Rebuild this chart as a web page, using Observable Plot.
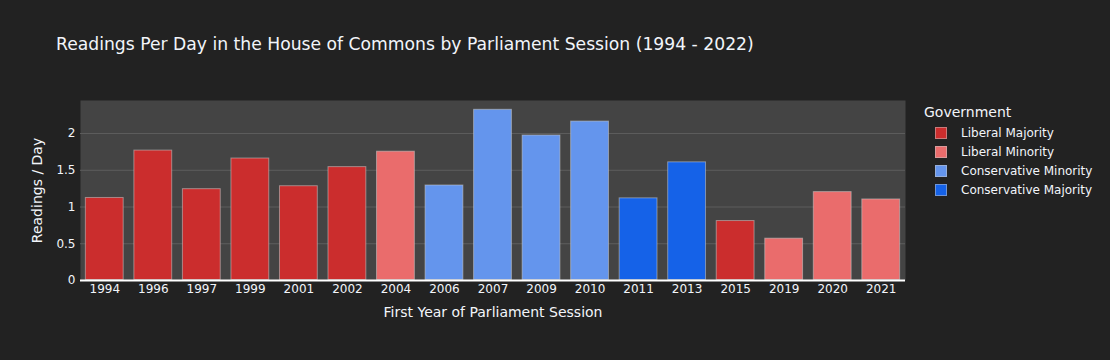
<!DOCTYPE html>
<html>
<head>
<meta charset="utf-8">
<script src="https://cdn.jsdelivr.net/npm/d3@7"></script>
<script src="https://cdn.jsdelivr.net/npm/@observablehq/plot@0.6"></script>
<style>
  html, body { margin: 0; padding: 0; background: #222222; }
  #wrap { position: relative; width: 1110px; height: 360px; background: #222222; font-family: "DejaVu Sans", Verdana, sans-serif; color: #f2f5fa; overflow: hidden; }
  #title { position: absolute; left: 56px; top: 34px; font-size: 17.2px; white-space: nowrap; }
  #legend { position: absolute; left: 924px; top: 104px; font-size: 12px; }
  #legend .lt { font-size: 14px; margin-bottom: 3px; }
  #legend .it { display: flex; align-items: center; height: 19px; margin-left: 11px; }
  #legend .sw { width: 12px; height: 12px; margin-right: 14px; box-sizing: border-box; border: 1px solid rgba(200,200,200,0.5); }
  #chart { position: absolute; left: 0; top: 0; }
</style>
</head>
<body>
<div id="wrap">
  <div id="chart"></div>
  <div id="title">Readings Per Day in the House of Commons by Parliament Session (1994 - 2022)</div>
  <div id="legend"></div>
</div>
<script>
const years = ["1994","1996","1997","1999","2001","2002","2004","2006","2007","2009","2010","2011","2013","2015","2019","2020","2021"];
const readingsPerDay = [1.13,1.775,1.25,1.667,1.29,1.55,1.76,1.30,2.33,1.98,2.17,1.125,1.615,0.816,0.576,1.21,1.11];
const governments = ["Liberal Majority","Liberal Majority","Liberal Majority","Liberal Majority","Liberal Majority","Liberal Majority","Liberal Minority","Conservative Minority","Conservative Minority","Conservative Minority","Conservative Minority","Conservative Majority","Conservative Majority","Liberal Majority","Liberal Minority","Liberal Minority","Liberal Minority"];
const govTypes = ["Liberal Majority","Liberal Minority","Conservative Minority","Conservative Majority"];
const govColors = ["#cb2d2d","#ea6c6c","#6495ed","#1562e8"];
const yTicks = [0,0.5,1,1.5,2];

const data = years.map((y,i) => ({year: y, value: readingsPerDay[i], gov: governments[i]}));

const chart = Plot.plot({
  width: 1110,
  height: 360,
  marginLeft: 80,
  marginRight: 205,
  marginTop: 100,
  marginBottom: 80,
  style: {background: "#222222", color: "#f2f5fa", fontFamily: "'DejaVu Sans', Verdana, sans-serif", fontSize: "12px"},
  x: {domain: years, paddingInner: 0.2, paddingOuter: 0.1, round: false, label: null, tickSize: 0},
  y: {domain: [0, 2.45], ticks: yTicks, tickFormat: d => String(d), label: null, tickSize: 0},
  color: {domain: govTypes, range: govColors},
  marks: [
    Plot.frame({fill: "#444444", stroke: null}),
    Plot.gridY(yTicks.filter(d => d > 0), {stroke: "#5e5e5e", strokeOpacity: 1, strokeWidth: 1}),
    Plot.barY(data, {x: "year", y: "value", fill: "gov", stroke: "#c8c8c8", strokeOpacity: 0.55, strokeWidth: 1, inset: 0.5}),
    Plot.ruleY([0], {stroke: "#ffffff", strokeWidth: 2}),
    Plot.axisX({tickSize: 0, tickPadding: 4, label: null, fontSize: 12}),
    Plot.axisY({ticks: yTicks, tickSize: 0, tickPadding: 5, label: null, tickFormat: d => String(d), fontSize: 12}),
    Plot.text(["First Year of Parliament Session"], {frameAnchor: "bottom", dy: 27, fontSize: 14, fill: "#f2f5fa", lineAnchor: "top"}),
    Plot.text(["Readings / Day"], {frameAnchor: "left", dx: -43, dy: 0, rotate: -90, textAnchor: "middle", fontSize: 14, fill: "#f2f5fa"})
  ]
});
document.getElementById("chart").appendChild(chart);

const leg = document.getElementById("legend");
leg.innerHTML = '<div class="lt">Government</div>' + govTypes.map((g,i) =>
  `<div class="it"><div class="sw" style="background:${govColors[i]}"></div><span>${g}</span></div>`).join("");
</script>
</body>
</html>
